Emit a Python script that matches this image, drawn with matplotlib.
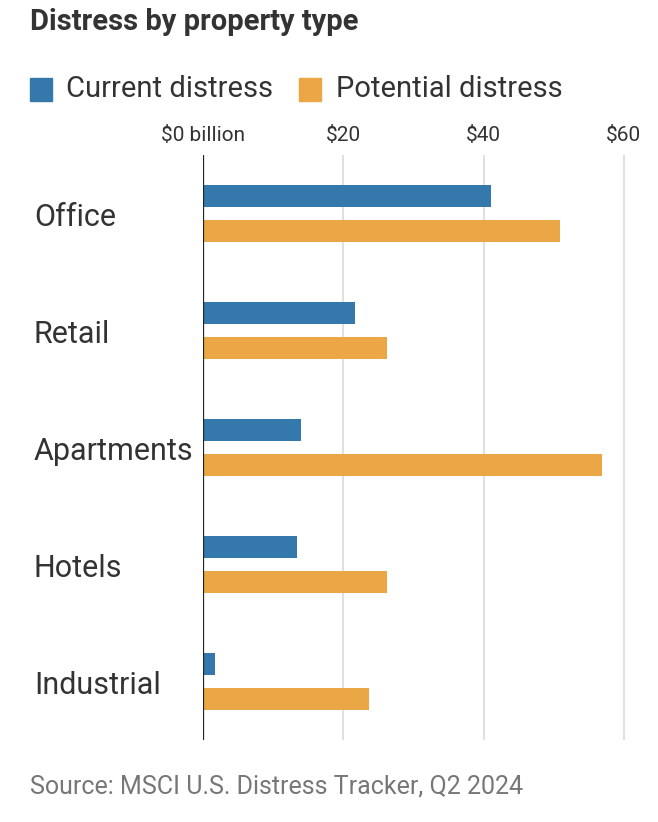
import matplotlib
matplotlib.use("Agg")
import matplotlib.pyplot as plt
import matplotlib.transforms as mtransforms
from matplotlib.patches import Rectangle
import numpy as np

plt.rcParams['font.family'] = ['Roboto', 'DejaVu Sans']

# Data (billions of dollars)
categories = ["Office", "Retail", "Apartments", "Hotels", "Industrial"]
current = [41.1, 21.7, 14.0, 13.4, 1.7]
potential = [50.9, 26.3, 56.9, 26.3, 23.7]
ticks = [0, 20, 40, 60]
tick_labels = ["$0 billion", "$20", "$40", "$60"]

blue = "#3478ac"
orange = "#eba645"
text_col = "#333333"

W, H = 658, 822
fig = plt.figure(figsize=(W / 100, H / 100), dpi=100)
ax = fig.add_axes([203 / W, 1 - 740 / H, (626 - 203) / W, (740 - 155) / H])

y = np.arange(len(categories))
bh = 0.19
ax.barh(y - 0.15, current, height=bh, color=blue, zorder=3)
ax.barh(y + 0.15, potential, height=bh, color=orange, zorder=3)

ax.set_ylim(len(categories) - 0.5, -0.5)
ax.set_xlim(0, 60.3)

for t in ticks[1:]:
    ax.axvline(t, color="#dddddd", lw=1.3, zorder=1)
ax.axvline(0, color="#222222", lw=1.6, zorder=4)

ax.set_xticks(ticks)
ax.set_xticklabels(tick_labels)
ax.xaxis.tick_top()
ax.tick_params(axis="x", length=0, pad=7, labelsize=15, labelcolor=text_col)
ax.set_yticks([])
for s in ax.spines.values():
    s.set_visible(False)

# category labels at the left edge of the figure
trans = mtransforms.blended_transform_factory(fig.transFigure, ax.transData)
for yi, cat in zip(y, categories):
    ax.text(34 / W, yi + 0.03, cat, transform=trans, fontsize=22,
            color=text_col, va="center", ha="left")

# title
fig.text(30 / W, 1 - 22 / H, "Distress by property type", fontsize=21,
         fontweight="bold", color=text_col, va="center", ha="left")

# legend
fig.patches.append(Rectangle((30 / W, 1 - 101 / H), 22 / W, 23 / H,
                             transform=fig.transFigure, color=blue))
fig.text(66 / W, 1 - 89 / H, "Current distress", fontsize=21,
         color=text_col, va="center", ha="left")
fig.patches.append(Rectangle((299 / W, 1 - 101 / H), 22 / W, 23 / H,
                             transform=fig.transFigure, color=orange))
fig.text(336 / W, 1 - 89 / H, "Potential distress", fontsize=21,
         color=text_col, va="center", ha="left")

# source
fig.text(30 / W, 1 - 786 / H, "Source: MSCI U.S. Distress Tracker, Q2 2024",
         fontsize=18, color="#777777", va="center", ha="left")

fig.savefig("out.png", dpi=100)
